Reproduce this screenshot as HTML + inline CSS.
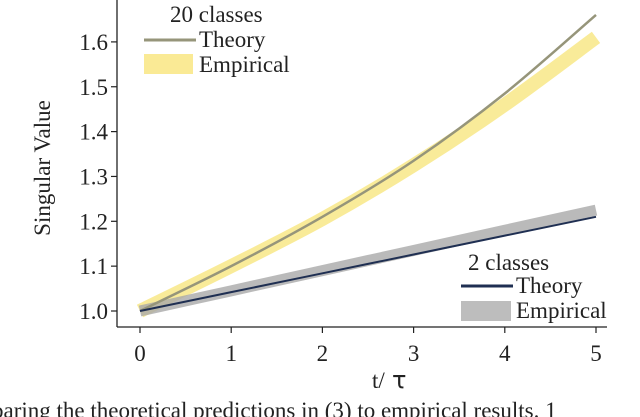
<!DOCTYPE html>
<html><head><meta charset="utf-8"><style>
body{margin:0;background:#fff;}
svg{display:block;font-family:"Liberation Serif",serif;}
</style></head><body>
<svg id="c" width="640" height="417"></svg>
<script>
const tVals=[0,1,2,3,4,5];
const theory20=[1.0,1.1,1.21,1.335,1.485,1.66];
const emp20=[1.0,1.1,1.205,1.325,1.46,1.61];
const theory2=[1.0,1.042,1.084,1.126,1.168,1.21];
const emp2=[1.0,1.045,1.09,1.135,1.18,1.225];
const xTicks=[0,1,2,3,4,5];
const yTicks=[1.0,1.1,1.2,1.3,1.4,1.5,1.6];
const NS="http://www.w3.org/2000/svg";
const svg=document.getElementById('c');
const X=v=>140+v*(596-140)/5;
const Y=v=>311-(v-1.0)*448.5;
function el(tag,attrs,parent){const e=document.createElementNS(NS,tag);for(const k in attrs)e.setAttribute(k,attrs[k]);(parent||svg).appendChild(e);return e;}
function pathOf(xs,ys){
  const p=xs.map((x,i)=>[X(x),Y(ys[i])]);let d=`M${p[0][0]},${p[0][1]}`;
  for(let i=0;i<p.length-1;i++){const p0=p[i-1]||p[i],p1=p[i],p2=p[i+1],p3=p[i+2]||p2;
    d+=` C${p1[0]+(p2[0]-p0[0])/6},${p1[1]+(p2[1]-p0[1])/6} ${p2[0]-(p3[0]-p1[0])/6},${p2[1]-(p3[1]-p1[1])/6} ${p2[0]},${p2[1]}`;}
  return d;}
let a=el('line',{x1:117,y1:0,x2:117,y2:327,stroke:'#222','stroke-width':1.3});


a=el('line',{x1:117,y1:327,x2:607,y2:327,stroke:'#222','stroke-width':1.3});


xTicks.forEach(v=>{
  el('line',{x1:X(v),y1:327,x2:X(v),y2:333,stroke:'#222','stroke-width':1.2});
  const t=el('text',{x:X(v),y:361,'font-size':23,'text-anchor':'middle',fill:'#222'});t.textContent=v;
  
  
});
yTicks.forEach(v=>{
  el('line',{x1:111,y1:Y(v),x2:117,y2:Y(v),stroke:'#222','stroke-width':1.2});
  const t=el('text',{x:108,y:Y(v)+8,'font-size':23,'text-anchor':'end',fill:'#222'});t.textContent=v.toFixed(1);
  
  
});
let t=el('text',{x:372,y:388,'font-size':23,fill:'#222'});t.textContent='t/';


t=el('text',{x:392,y:388,'font-size':24,'font-family':'DejaVu Sans',fill:'#222'});t.textContent='τ';


t=el('text',{x:0,y:0,'font-size':23,'text-anchor':'middle',fill:'#222',transform:'translate(50,168) rotate(-90)'});t.textContent='Singular Value';


let s=el('path',{d:pathOf(tVals,emp20),fill:'none',stroke:'#f8e680','stroke-opacity':0.8,'stroke-width':14});


s=el('path',{d:pathOf(tVals,emp2),fill:'none',stroke:'#a9a9a9','stroke-opacity':0.8,'stroke-width':11});


s=el('path',{d:pathOf(tVals,theory20),fill:'none',stroke:'#96957a','stroke-width':2.5});


s=el('path',{d:pathOf(tVals,theory2),fill:'none',stroke:'#1f2f52','stroke-width':2});


function txt(x,y,s,name){const e=el('text',{x:x,y:y,'font-size':23,fill:'#222'});e.textContent=s;
  
  }
txt(170,22,'20 classes','legend-20-title');
el('line',{x1:144,y1:40,x2:196,y2:40,stroke:'#96957a','stroke-width':3});
txt(199,47,'Theory','legend-20-theory');
el('rect',{x:144,y:54,width:49,height:20,fill:'#faea95'});
txt(199,72,'Empirical','legend-20-empirical');
txt(468,270,'2 classes','legend-2-title');
el('line',{x1:461,y1:286,x2:513,y2:286,stroke:'#1f2f52','stroke-width':3});
txt(516,293,'Theory','legend-2-theory');
el('rect',{x:461,y:301,width:50,height:20,fill:'#bdbdbd'});
txt(516,318,'Empirical','legend-2-empirical');
t=el('text',{x:-8,y:418,'font-size':23,fill:'#222'});t.textContent='paring the theoretical predictions in (3) to empirical results. 1';


</script>
</body></html>
